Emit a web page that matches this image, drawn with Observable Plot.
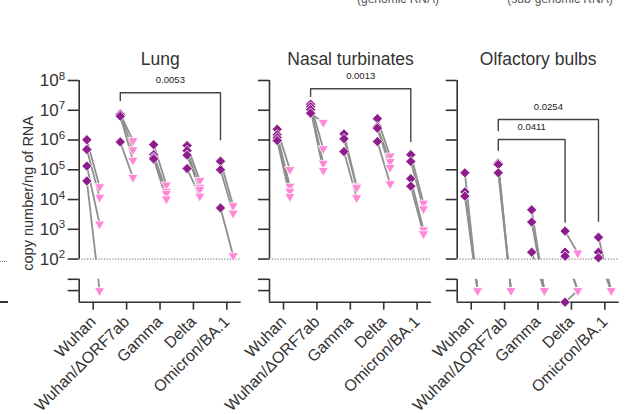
<!DOCTYPE html>
<html><head><meta charset="utf-8">
<script src="https://cdn.jsdelivr.net/npm/d3@7"></script>
<script src="https://cdn.jsdelivr.net/npm/@observablehq/plot@0.6"></script>
<style>
html,body{margin:0;padding:0;background:#fff;}
#chart{position:relative;width:625px;height:414px;overflow:hidden;font-family:"Liberation Sans",Arial,sans-serif;}
#chart svg{position:absolute;left:0;top:0;}
.hdr{position:absolute;font-size:12px;line-height:12px;color:#555;white-space:nowrap;transform:translateX(-50%);}
</style></head><body><div id="chart"></div>
<script>
// ---------- data ----------
const variants = ["Wuhan", "Wuhan/ΔORF7ab", "Gamma", "Delta", "Omicron/BA.1"];
const tissues = ["Lung", "Nasal turbinates", "Olfactory bulbs"];
const legendLabels = ["(genomic RNA)", "(sub-genomic RNA)"];
const yTickPowers = [2, 3, 4, 5, 6, 7, 8];

// copy number / ng of RNA, one array per variant, one value per animal ("nd" = not detected)
const lungGenomic = [
  [1.02e6, 4.8e5, 1.33e5, 4.2e4],
  [7.5e6, 7.2e6, 6.3e6, 8.6e5],
  [7.0e5, 3.2e5, 2.6e5, 2.3e5],
  [6.5e5, 4.4e5, 3.1e5, 1.1e5],
  [1.95e5, 1.0e5, 5.2e3]
];
const lungSubgenomic = [
  [2.7e4, 1.2e4, 1.5e3, "nd"],
  [9.5e5, 4.7e5, 2.1e5, 5.5e4],
  [3.1e4, 1.9e4, 1.6e4, 1.05e4],
  [4.4e4, 2.6e4, 2.2e4, 1.3e4],
  [6.2e3, 3.5e3, 1.3e2]
];
const nasalGenomic = [
  [2.3e6, 1.5e6, 1.2e6, 9.6e5],
  [1.6e7, 1.3e7, 1.05e7, 8.0e6],
  [1.6e6, 1.1e6, 4.1e5],
  [5.2e6, 2.8e6, 2.5e6, 8.9e5],
  [3.2e5, 1.9e5, 5.0e4, 2.8e4]
];
const nasalSubgenomic = [
  [1.02e5, 2.8e4, 1.9e4, 1.26e4],
  [5.1e5, 1.66e5, 9.5e4, 3.9e6],
  [2.8e4, 2.5e4, 1.15e4],
  [2.9e5, 1.9e5, 1.2e5, 3.4e4],
  [7.6e3, 4.9e3, 9.6e2, 7.1e2]
];
const olfactoryGenomic = [
  [7.9e4, 1.8e4, 1.3e4],
  [1.66e5, 1.5e5, 7.9e4],
  [4.5e3, 1.75e3, 1.7e2],
  [8.7e2, 1.7e2, 1.25e2, "nd"],
  [5.4e2, 1.7e2, 1.1e2]
];
const olfactorySubgenomic = [
  ["nd", "nd", "nd"],
  ["nd", "nd", "nd"],
  ["nd", "nd", "nd"],
  [1.6e2, "nd", "nd", "nd"],
  ["nd", "nd", "nd"]
];
// significance brackets: variant indices, bracket top / leg ends (copy number), p-value
const lungBrackets = [{from: 1, to: 4, top: 3.86e7, leftEnd: 2.13e7, rightEnd: 1.02e6, label: "0.0053"}];
const nasalBrackets = [{from: 1, to: 4, top: 5.26e7, leftEnd: 2.9e7, rightEnd: 8.9e5, label: "0.0013"}];
const olfactoryBrackets = [
  {from: 1, to: 4, top: 4.9e6, leftEnd: 2.1e6, rightEnd: 1.86e3, label: "0.0254"},
  {from: 1, to: 3, top: 1.04e6, leftEnd: 4.5e5, rightEnd: 1.74e3, label: "0.0411"}
];

// ---------- layout / style ----------
const PURPLE = "#8E1D8C", PINK = "#FF88D6", LINK = "#8f8f8f", AXIS = "#333";
const LOD = 100, BREAK_LOW = 10 ** 1.32, ND_SUB = 10 ** 0.94, Y_MIN = 10 ** 0.55;
const X_DOMAIN = [-0.42, 4.43], G_OFF = -0.19, S_OFF = 0.19;
const PANEL_W = 162;
const panels = [
  {title: tissues[0], left: 78.7, g: lungGenomic, s: lungSubgenomic, brackets: lungBrackets, labels: true},
  {title: tissues[1], left: 269, g: nasalGenomic, s: nasalSubgenomic, brackets: nasalBrackets, labels: false},
  {title: tissues[2], left: 456.7, g: olfactoryGenomic, s: olfactorySubgenomic, brackets: olfactoryBrackets, labels: false}
];

const diamondSym = {draw(ctx, size) {
  const r = Math.sqrt(size / 2);
  ctx.moveTo(0, -r); ctx.lineTo(r, 0); ctx.lineTo(0, r); ctx.lineTo(-r, 0); ctx.closePath();
}};
const triDownSym = {draw(ctx, size) {
  const h = Math.sqrt(size / (3 * Math.sqrt(3))), w = Math.sqrt(3) * h;
  ctx.moveTo(0, 2 * h); ctx.lineTo(-w, -h); ctx.lineTo(w, -h); ctx.closePath();
}};

const near = (a, b) => Math.abs(a - b) < 1e-9 * b;
const yTicks = yTickPowers.map(p => 10 ** p).concat([ND_SUB, BREAK_LOW]);
const ns = "http://www.w3.org/2000/svg";
const chart = document.getElementById("chart");

for (const p of panels) {
  const pairs = [];
  p.g.forEach((arr, i) => arr.forEach((gv, k) => {
    const sv = p.s[i][k];
    pairs.push({i, g: gv === "nd" ? Y_MIN : gv, s: sv === "nd" ? ND_SUB : sv});
  }));
  const bracketPts = [];
  p.brackets.forEach((b, id) => {
    bracketPts.push({id, x: b.from + G_OFF, y: b.leftEnd}, {id, x: b.from + G_OFF, y: b.top},
                    {id, x: b.to + G_OFF, y: b.top}, {id, x: b.to + G_OFF, y: b.rightEnd});
  });
  const axisStyle = {stroke: AXIS, strokeWidth: 1.6};
  const marks = [
    Plot.link(pairs, {x1: d => d.i + G_OFF, y1: "g", x2: d => d.i + S_OFF, y2: "s", stroke: LINK, strokeWidth: 1.8}),
    Plot.rect([0], {x1: X_DOMAIN[0], x2: X_DOMAIN[1], y1: BREAK_LOW, y2: LOD, fill: "white", insetTop: 0.8}),
    Plot.ruleY([LOD], {stroke: "#666", strokeDasharray: "1.2,1.6", strokeWidth: 1}),
    Plot.ruleX([X_DOMAIN[0]], {y1: LOD, y2: 1e8, ...axisStyle}),
    Plot.ruleX([X_DOMAIN[0]], {y1: Y_MIN, y2: BREAK_LOW, ...axisStyle}),
    Plot.ruleY([Y_MIN], axisStyle),
    Plot.line(bracketPts, {x: "x", y: "y", z: "id", stroke: "#444", strokeWidth: 1.4}),
    Plot.text(p.brackets, {x: d => (d.from + d.to) / 2 + G_OFF, y: "top", text: "label", dy: -12.5, fontSize: 9.5, fill: "#222"}),
    Plot.dot(pairs, {x: d => d.i + G_OFF, y: "g", symbol: diamondSym, r: 4.1, fill: PURPLE, stroke: "white", strokeWidth: 0.8}),
    Plot.dot(pairs, {x: d => d.i + S_OFF, y: "s", symbol: triDownSym, r: 3.8, fill: PINK, stroke: "white", strokeWidth: 0.8}),
    Plot.text([p.title], {frameAnchor: "top", dy: -28, fontSize: 17.5, fill: "#333"})
  ];
  if (p.labels) marks.push(Plot.text(["copy number/ng of RNA"], {frameAnchor: "left", textAnchor: "middle", rotate: -90, dx: 28 - p.left, dy: 2, fontSize: 14.5, fill: "#333"}));
  const svg = Plot.plot({
    width: 625, height: 414,
    marginLeft: p.left, marginRight: 625 - p.left - PANEL_W, marginTop: 80, marginBottom: 112.3,
    style: {background: "transparent", overflow: "visible", fontFamily: "'Liberation Sans', Arial, sans-serif", fontSize: "16px", color: "#333"},
    x: {domain: X_DOMAIN, ticks: [0, 1, 2, 3, 4], tickFormat: i => variants[i], tickRotate: -45, tickSize: 8, tickPadding: 9, label: null},
    y: {type: "log", domain: [Y_MIN, 1e8], ticks: yTicks, tickSize: 11, tickPadding: 3, label: null,
        tickFormat: d => !p.labels || near(d, BREAK_LOW) ? "" : near(d, ND_SUB) ? "nd" : "1e" + Math.round(Math.log10(d))},
    marks
  });
  svg.querySelectorAll("text").forEach(t => {
    const s = t.textContent, m = /^1e(\d)$/.exec(s);
    if (m) {
      t.textContent = "10";
      const ts = document.createElementNS(ns, "tspan");
      ts.setAttribute("dy", "-0.55em"); ts.setAttribute("font-size", "11.5px"); ts.textContent = m[1];
      t.appendChild(ts); t.setAttribute("font-size", "17px");
    } else if (s === "nd") t.setAttribute("font-size", "17px");
  });
  svg.querySelectorAll('[aria-label*="axis"] path, [aria-label*="axis"] line').forEach(e => e.setAttribute("stroke-width", "1.6"));
  chart.appendChild(svg);
}

// cut-off legend labels at the top edge (as in the source figure)
[[legendLabels[0], 398], [legendLabels[1], 560]].forEach(([txt, cx]) => {
  const d = document.createElement("div");
  d.className = "hdr"; d.textContent = txt; d.style.left = cx + "px"; d.style.top = "-7px";
  chart.appendChild(d);
});
// fragments of neighbouring panel at the left edge
const frag1 = document.createElement("div");
frag1.style.cssText = "position:absolute;left:0;top:261px;width:7px;border-top:1px dotted #888;";
const frag2 = document.createElement("div");
frag2.style.cssText = "position:absolute;left:0;top:301px;width:8px;height:1.5px;background:#333;";
chart.appendChild(frag1); chart.appendChild(frag2);
</script></body></html>
